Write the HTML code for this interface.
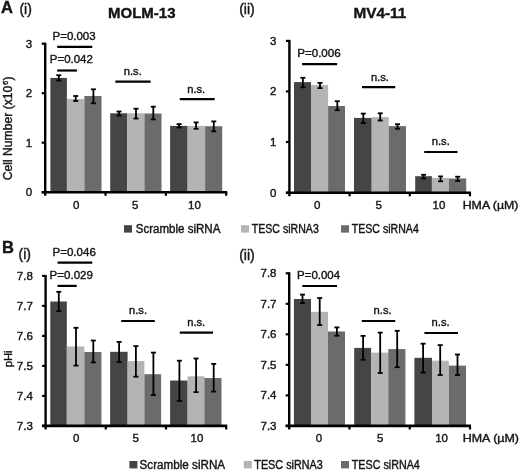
<!DOCTYPE html>
<html><head><meta charset="utf-8"><style>
html,body{margin:0;padding:0;background:#fff;width:520px;height:471px;overflow:hidden}
svg{display:block;filter:grayscale(1)}
text{font-family:"Liberation Sans", sans-serif;fill:#151515;stroke:#151515;stroke-width:0.4px}
</style></head><body>
<svg width="520" height="471" viewBox="0 0 520 471">
<rect width="520" height="471" fill="#fff"/>
<rect x="50.40" y="77.90" width="16.50" height="114.30" fill="#454545"/>
<rect x="66.90" y="99.00" width="17.50" height="93.20" fill="#b4b4b4"/>
<rect x="84.40" y="96.00" width="17.10" height="96.20" fill="#6b6b6b"/>
<rect x="110.20" y="113.30" width="16.90" height="78.90" fill="#454545"/>
<rect x="127.10" y="113.30" width="17.30" height="78.90" fill="#b4b4b4"/>
<rect x="144.40" y="113.50" width="17.10" height="78.70" fill="#6b6b6b"/>
<rect x="170.10" y="125.90" width="17.50" height="66.30" fill="#454545"/>
<rect x="187.60" y="125.90" width="17.50" height="66.30" fill="#b4b4b4"/>
<rect x="205.10" y="126.20" width="17.10" height="66.00" fill="#6b6b6b"/>
<line x1="58.80" y1="75.20" x2="58.80" y2="80.50" stroke="#000" stroke-width="1.8"/>
<line x1="56.30" y1="75.20" x2="61.30" y2="75.20" stroke="#000" stroke-width="1.8"/>
<line x1="56.30" y1="80.50" x2="61.30" y2="80.50" stroke="#000" stroke-width="1.8"/>
<line x1="75.70" y1="96.00" x2="75.70" y2="101.00" stroke="#000" stroke-width="1.8"/>
<line x1="73.20" y1="96.00" x2="78.20" y2="96.00" stroke="#000" stroke-width="1.8"/>
<line x1="73.20" y1="101.00" x2="78.20" y2="101.00" stroke="#000" stroke-width="1.8"/>
<line x1="93.40" y1="89.30" x2="93.40" y2="103.30" stroke="#000" stroke-width="1.8"/>
<line x1="90.90" y1="89.30" x2="95.90" y2="89.30" stroke="#000" stroke-width="1.8"/>
<line x1="90.90" y1="103.30" x2="95.90" y2="103.30" stroke="#000" stroke-width="1.8"/>
<line x1="119.00" y1="111.50" x2="119.00" y2="115.60" stroke="#000" stroke-width="1.8"/>
<line x1="116.50" y1="111.50" x2="121.50" y2="111.50" stroke="#000" stroke-width="1.8"/>
<line x1="116.50" y1="115.60" x2="121.50" y2="115.60" stroke="#000" stroke-width="1.8"/>
<line x1="136.00" y1="108.70" x2="136.00" y2="118.50" stroke="#000" stroke-width="1.8"/>
<line x1="133.50" y1="108.70" x2="138.50" y2="108.70" stroke="#000" stroke-width="1.8"/>
<line x1="133.50" y1="118.50" x2="138.50" y2="118.50" stroke="#000" stroke-width="1.8"/>
<line x1="153.30" y1="106.70" x2="153.30" y2="119.40" stroke="#000" stroke-width="1.8"/>
<line x1="150.80" y1="106.70" x2="155.80" y2="106.70" stroke="#000" stroke-width="1.8"/>
<line x1="150.80" y1="119.40" x2="155.80" y2="119.40" stroke="#000" stroke-width="1.8"/>
<line x1="179.10" y1="124.10" x2="179.10" y2="127.50" stroke="#000" stroke-width="1.8"/>
<line x1="176.60" y1="124.10" x2="181.60" y2="124.10" stroke="#000" stroke-width="1.8"/>
<line x1="176.60" y1="127.50" x2="181.60" y2="127.50" stroke="#000" stroke-width="1.8"/>
<line x1="196.10" y1="122.40" x2="196.10" y2="128.80" stroke="#000" stroke-width="1.8"/>
<line x1="193.60" y1="122.40" x2="198.60" y2="122.40" stroke="#000" stroke-width="1.8"/>
<line x1="193.60" y1="128.80" x2="198.60" y2="128.80" stroke="#000" stroke-width="1.8"/>
<line x1="213.80" y1="121.40" x2="213.80" y2="131.30" stroke="#000" stroke-width="1.8"/>
<line x1="211.30" y1="121.40" x2="216.30" y2="121.40" stroke="#000" stroke-width="1.8"/>
<line x1="211.30" y1="131.30" x2="216.30" y2="131.30" stroke="#000" stroke-width="1.8"/>
<line x1="45.20" y1="42.70" x2="45.20" y2="195.70" stroke="#000" stroke-width="2.4"/>
<line x1="41.70" y1="192.20" x2="45.20" y2="192.20" stroke="#000" stroke-width="2.2"/>
<line x1="41.70" y1="142.70" x2="45.20" y2="142.70" stroke="#000" stroke-width="2.2"/>
<line x1="41.70" y1="93.20" x2="45.20" y2="93.20" stroke="#000" stroke-width="2.2"/>
<line x1="41.70" y1="43.70" x2="45.20" y2="43.70" stroke="#000" stroke-width="2.2"/>
<line x1="41.70" y1="192.20" x2="227.20" y2="192.20" stroke="#000" stroke-width="2.6"/>
<line x1="105.53" y1="192.20" x2="105.53" y2="195.80" stroke="#000" stroke-width="2.2"/>
<line x1="165.87" y1="192.20" x2="165.87" y2="195.80" stroke="#000" stroke-width="2.2"/>
<line x1="226.20" y1="192.20" x2="226.20" y2="195.80" stroke="#000" stroke-width="2.2"/>
<text x="32.20" y="196.20" font-size="11.5" text-anchor="end">0</text>
<text x="32.20" y="146.70" font-size="11.5" text-anchor="end">1</text>
<text x="32.20" y="97.20" font-size="11.5" text-anchor="end">2</text>
<text x="32.20" y="47.70" font-size="11.5" text-anchor="end">3</text>
<rect x="294.00" y="82.10" width="17.00" height="110.60" fill="#454545"/>
<rect x="311.00" y="85.00" width="17.10" height="107.70" fill="#b4b4b4"/>
<rect x="328.10" y="106.00" width="16.90" height="86.70" fill="#6b6b6b"/>
<rect x="354.00" y="117.90" width="17.70" height="74.80" fill="#454545"/>
<rect x="371.70" y="117.10" width="17.00" height="75.60" fill="#b4b4b4"/>
<rect x="388.70" y="126.10" width="17.30" height="66.60" fill="#6b6b6b"/>
<rect x="415.20" y="176.20" width="16.70" height="16.50" fill="#454545"/>
<rect x="431.90" y="177.90" width="17.10" height="14.80" fill="#b4b4b4"/>
<rect x="449.00" y="178.50" width="17.20" height="14.20" fill="#6b6b6b"/>
<line x1="302.90" y1="77.80" x2="302.90" y2="87.30" stroke="#000" stroke-width="1.8"/>
<line x1="300.40" y1="77.80" x2="305.40" y2="77.80" stroke="#000" stroke-width="1.8"/>
<line x1="300.40" y1="87.30" x2="305.40" y2="87.30" stroke="#000" stroke-width="1.8"/>
<line x1="320.00" y1="82.90" x2="320.00" y2="88.10" stroke="#000" stroke-width="1.8"/>
<line x1="317.50" y1="82.90" x2="322.50" y2="82.90" stroke="#000" stroke-width="1.8"/>
<line x1="317.50" y1="88.10" x2="322.50" y2="88.10" stroke="#000" stroke-width="1.8"/>
<line x1="337.30" y1="101.20" x2="337.30" y2="110.20" stroke="#000" stroke-width="1.8"/>
<line x1="334.80" y1="101.20" x2="339.80" y2="101.20" stroke="#000" stroke-width="1.8"/>
<line x1="334.80" y1="110.20" x2="339.80" y2="110.20" stroke="#000" stroke-width="1.8"/>
<line x1="363.30" y1="113.60" x2="363.30" y2="123.10" stroke="#000" stroke-width="1.8"/>
<line x1="360.80" y1="113.60" x2="365.80" y2="113.60" stroke="#000" stroke-width="1.8"/>
<line x1="360.80" y1="123.10" x2="365.80" y2="123.10" stroke="#000" stroke-width="1.8"/>
<line x1="380.20" y1="113.30" x2="380.20" y2="120.50" stroke="#000" stroke-width="1.8"/>
<line x1="377.70" y1="113.30" x2="382.70" y2="113.30" stroke="#000" stroke-width="1.8"/>
<line x1="377.70" y1="120.50" x2="382.70" y2="120.50" stroke="#000" stroke-width="1.8"/>
<line x1="397.50" y1="124.20" x2="397.50" y2="128.80" stroke="#000" stroke-width="1.8"/>
<line x1="395.00" y1="124.20" x2="400.00" y2="124.20" stroke="#000" stroke-width="1.8"/>
<line x1="395.00" y1="128.80" x2="400.00" y2="128.80" stroke="#000" stroke-width="1.8"/>
<line x1="423.60" y1="174.80" x2="423.60" y2="178.50" stroke="#000" stroke-width="1.8"/>
<line x1="421.10" y1="174.80" x2="426.10" y2="174.80" stroke="#000" stroke-width="1.8"/>
<line x1="421.10" y1="178.50" x2="426.10" y2="178.50" stroke="#000" stroke-width="1.8"/>
<line x1="440.60" y1="176.40" x2="440.60" y2="181.30" stroke="#000" stroke-width="1.8"/>
<line x1="438.10" y1="176.40" x2="443.10" y2="176.40" stroke="#000" stroke-width="1.8"/>
<line x1="438.10" y1="181.30" x2="443.10" y2="181.30" stroke="#000" stroke-width="1.8"/>
<line x1="457.70" y1="176.70" x2="457.70" y2="181.00" stroke="#000" stroke-width="1.8"/>
<line x1="455.20" y1="176.70" x2="460.20" y2="176.70" stroke="#000" stroke-width="1.8"/>
<line x1="455.20" y1="181.00" x2="460.20" y2="181.00" stroke="#000" stroke-width="1.8"/>
<line x1="289.40" y1="39.90" x2="289.40" y2="196.20" stroke="#000" stroke-width="2.4"/>
<line x1="285.90" y1="192.70" x2="289.40" y2="192.70" stroke="#000" stroke-width="2.2"/>
<line x1="285.90" y1="142.00" x2="289.40" y2="142.00" stroke="#000" stroke-width="2.2"/>
<line x1="285.90" y1="91.40" x2="289.40" y2="91.40" stroke="#000" stroke-width="2.2"/>
<line x1="285.90" y1="40.90" x2="289.40" y2="40.90" stroke="#000" stroke-width="2.2"/>
<line x1="285.90" y1="192.70" x2="471.00" y2="192.70" stroke="#000" stroke-width="2.6"/>
<line x1="349.60" y1="192.70" x2="349.60" y2="196.30" stroke="#000" stroke-width="2.2"/>
<line x1="409.80" y1="192.70" x2="409.80" y2="196.30" stroke="#000" stroke-width="2.2"/>
<line x1="470.00" y1="192.70" x2="470.00" y2="196.30" stroke="#000" stroke-width="2.2"/>
<text x="276.50" y="196.70" font-size="11.5" text-anchor="end">0</text>
<text x="276.50" y="146.00" font-size="11.5" text-anchor="end">1</text>
<text x="276.50" y="95.40" font-size="11.5" text-anchor="end">2</text>
<text x="276.50" y="44.90" font-size="11.5" text-anchor="end">3</text>
<rect x="50.30" y="301.50" width="16.50" height="124.40" fill="#454545"/>
<rect x="66.80" y="346.50" width="17.60" height="79.40" fill="#b4b4b4"/>
<rect x="84.40" y="352.00" width="17.00" height="73.90" fill="#6b6b6b"/>
<rect x="110.10" y="351.80" width="17.50" height="74.10" fill="#454545"/>
<rect x="127.60" y="361.10" width="16.80" height="64.80" fill="#b4b4b4"/>
<rect x="144.40" y="374.20" width="16.70" height="51.70" fill="#6b6b6b"/>
<rect x="170.10" y="380.50" width="17.50" height="45.40" fill="#454545"/>
<rect x="187.60" y="376.30" width="16.80" height="49.60" fill="#b4b4b4"/>
<rect x="204.40" y="378.00" width="17.10" height="47.90" fill="#6b6b6b"/>
<line x1="58.80" y1="291.80" x2="58.80" y2="311.10" stroke="#000" stroke-width="1.8"/>
<line x1="56.30" y1="291.80" x2="61.30" y2="291.80" stroke="#000" stroke-width="1.8"/>
<line x1="56.30" y1="311.10" x2="61.30" y2="311.10" stroke="#000" stroke-width="1.8"/>
<line x1="76.00" y1="327.80" x2="76.00" y2="365.60" stroke="#000" stroke-width="1.8"/>
<line x1="73.50" y1="327.80" x2="78.50" y2="327.80" stroke="#000" stroke-width="1.8"/>
<line x1="73.50" y1="365.60" x2="78.50" y2="365.60" stroke="#000" stroke-width="1.8"/>
<line x1="93.30" y1="340.50" x2="93.30" y2="362.40" stroke="#000" stroke-width="1.8"/>
<line x1="90.80" y1="340.50" x2="95.80" y2="340.50" stroke="#000" stroke-width="1.8"/>
<line x1="90.80" y1="362.40" x2="95.80" y2="362.40" stroke="#000" stroke-width="1.8"/>
<line x1="119.10" y1="341.90" x2="119.10" y2="362.00" stroke="#000" stroke-width="1.8"/>
<line x1="116.60" y1="341.90" x2="121.60" y2="341.90" stroke="#000" stroke-width="1.8"/>
<line x1="116.60" y1="362.00" x2="121.60" y2="362.00" stroke="#000" stroke-width="1.8"/>
<line x1="135.90" y1="346.10" x2="135.90" y2="376.70" stroke="#000" stroke-width="1.8"/>
<line x1="133.40" y1="346.10" x2="138.40" y2="346.10" stroke="#000" stroke-width="1.8"/>
<line x1="133.40" y1="376.70" x2="138.40" y2="376.70" stroke="#000" stroke-width="1.8"/>
<line x1="153.40" y1="352.60" x2="153.40" y2="395.10" stroke="#000" stroke-width="1.8"/>
<line x1="150.90" y1="352.60" x2="155.90" y2="352.60" stroke="#000" stroke-width="1.8"/>
<line x1="150.90" y1="395.10" x2="155.90" y2="395.10" stroke="#000" stroke-width="1.8"/>
<line x1="179.40" y1="360.70" x2="179.40" y2="400.90" stroke="#000" stroke-width="1.8"/>
<line x1="176.90" y1="360.70" x2="181.90" y2="360.70" stroke="#000" stroke-width="1.8"/>
<line x1="176.90" y1="400.90" x2="181.90" y2="400.90" stroke="#000" stroke-width="1.8"/>
<line x1="196.10" y1="358.50" x2="196.10" y2="392.10" stroke="#000" stroke-width="1.8"/>
<line x1="193.60" y1="358.50" x2="198.60" y2="358.50" stroke="#000" stroke-width="1.8"/>
<line x1="193.60" y1="392.10" x2="198.60" y2="392.10" stroke="#000" stroke-width="1.8"/>
<line x1="213.70" y1="363.90" x2="213.70" y2="391.60" stroke="#000" stroke-width="1.8"/>
<line x1="211.20" y1="363.90" x2="216.20" y2="363.90" stroke="#000" stroke-width="1.8"/>
<line x1="211.20" y1="391.60" x2="216.20" y2="391.60" stroke="#000" stroke-width="1.8"/>
<line x1="45.60" y1="275.00" x2="45.60" y2="429.40" stroke="#000" stroke-width="2.4"/>
<line x1="42.10" y1="425.90" x2="45.60" y2="425.90" stroke="#000" stroke-width="2.2"/>
<line x1="42.10" y1="395.90" x2="45.60" y2="395.90" stroke="#000" stroke-width="2.2"/>
<line x1="42.10" y1="365.90" x2="45.60" y2="365.90" stroke="#000" stroke-width="2.2"/>
<line x1="42.10" y1="335.90" x2="45.60" y2="335.90" stroke="#000" stroke-width="2.2"/>
<line x1="42.10" y1="305.90" x2="45.60" y2="305.90" stroke="#000" stroke-width="2.2"/>
<line x1="42.10" y1="275.90" x2="45.60" y2="275.90" stroke="#000" stroke-width="2.2"/>
<line x1="42.10" y1="425.90" x2="227.20" y2="425.90" stroke="#000" stroke-width="2.6"/>
<line x1="105.80" y1="425.90" x2="105.80" y2="429.50" stroke="#000" stroke-width="2.2"/>
<line x1="166.00" y1="425.90" x2="166.00" y2="429.50" stroke="#000" stroke-width="2.2"/>
<line x1="226.20" y1="425.90" x2="226.20" y2="429.50" stroke="#000" stroke-width="2.2"/>
<text x="32.80" y="429.90" font-size="11.5" text-anchor="end">7.3</text>
<text x="32.80" y="399.90" font-size="11.5" text-anchor="end">7.4</text>
<text x="32.80" y="369.90" font-size="11.5" text-anchor="end">7.5</text>
<text x="32.80" y="339.90" font-size="11.5" text-anchor="end">7.6</text>
<text x="32.80" y="309.90" font-size="11.5" text-anchor="end">7.7</text>
<text x="32.80" y="279.90" font-size="11.5" text-anchor="end">7.8</text>
<rect x="293.90" y="299.00" width="17.10" height="126.90" fill="#454545"/>
<rect x="311.00" y="311.80" width="17.00" height="114.10" fill="#b4b4b4"/>
<rect x="328.00" y="331.50" width="17.00" height="94.40" fill="#6b6b6b"/>
<rect x="354.20" y="347.90" width="16.90" height="78.00" fill="#454545"/>
<rect x="371.10" y="352.70" width="17.20" height="73.20" fill="#b4b4b4"/>
<rect x="388.30" y="349.10" width="17.10" height="76.80" fill="#6b6b6b"/>
<rect x="414.40" y="357.80" width="17.60" height="68.10" fill="#454545"/>
<rect x="432.00" y="360.70" width="16.90" height="65.20" fill="#b4b4b4"/>
<rect x="448.90" y="365.60" width="17.10" height="60.30" fill="#6b6b6b"/>
<line x1="302.50" y1="294.60" x2="302.50" y2="303.20" stroke="#000" stroke-width="1.8"/>
<line x1="300.00" y1="294.60" x2="305.00" y2="294.60" stroke="#000" stroke-width="1.8"/>
<line x1="300.00" y1="303.20" x2="305.00" y2="303.20" stroke="#000" stroke-width="1.8"/>
<line x1="319.70" y1="298.00" x2="319.70" y2="325.10" stroke="#000" stroke-width="1.8"/>
<line x1="317.20" y1="298.00" x2="322.20" y2="298.00" stroke="#000" stroke-width="1.8"/>
<line x1="317.20" y1="325.10" x2="322.20" y2="325.10" stroke="#000" stroke-width="1.8"/>
<line x1="336.90" y1="327.40" x2="336.90" y2="335.70" stroke="#000" stroke-width="1.8"/>
<line x1="334.40" y1="327.40" x2="339.40" y2="327.40" stroke="#000" stroke-width="1.8"/>
<line x1="334.40" y1="335.70" x2="339.40" y2="335.70" stroke="#000" stroke-width="1.8"/>
<line x1="363.10" y1="335.90" x2="363.10" y2="359.70" stroke="#000" stroke-width="1.8"/>
<line x1="360.60" y1="335.90" x2="365.60" y2="335.90" stroke="#000" stroke-width="1.8"/>
<line x1="360.60" y1="359.70" x2="365.60" y2="359.70" stroke="#000" stroke-width="1.8"/>
<line x1="380.20" y1="332.60" x2="380.20" y2="373.00" stroke="#000" stroke-width="1.8"/>
<line x1="377.70" y1="332.60" x2="382.70" y2="332.60" stroke="#000" stroke-width="1.8"/>
<line x1="377.70" y1="373.00" x2="382.70" y2="373.00" stroke="#000" stroke-width="1.8"/>
<line x1="397.20" y1="330.80" x2="397.20" y2="367.20" stroke="#000" stroke-width="1.8"/>
<line x1="394.70" y1="330.80" x2="399.70" y2="330.80" stroke="#000" stroke-width="1.8"/>
<line x1="394.70" y1="367.20" x2="399.70" y2="367.20" stroke="#000" stroke-width="1.8"/>
<line x1="423.10" y1="343.70" x2="423.10" y2="372.60" stroke="#000" stroke-width="1.8"/>
<line x1="420.60" y1="343.70" x2="425.60" y2="343.70" stroke="#000" stroke-width="1.8"/>
<line x1="420.60" y1="372.60" x2="425.60" y2="372.60" stroke="#000" stroke-width="1.8"/>
<line x1="440.20" y1="345.10" x2="440.20" y2="375.00" stroke="#000" stroke-width="1.8"/>
<line x1="437.70" y1="345.10" x2="442.70" y2="345.10" stroke="#000" stroke-width="1.8"/>
<line x1="437.70" y1="375.00" x2="442.70" y2="375.00" stroke="#000" stroke-width="1.8"/>
<line x1="457.50" y1="354.50" x2="457.50" y2="375.00" stroke="#000" stroke-width="1.8"/>
<line x1="455.00" y1="354.50" x2="460.00" y2="354.50" stroke="#000" stroke-width="1.8"/>
<line x1="455.00" y1="375.00" x2="460.00" y2="375.00" stroke="#000" stroke-width="1.8"/>
<line x1="289.20" y1="272.30" x2="289.20" y2="429.40" stroke="#000" stroke-width="2.4"/>
<line x1="285.70" y1="425.90" x2="289.20" y2="425.90" stroke="#000" stroke-width="2.2"/>
<line x1="285.70" y1="395.38" x2="289.20" y2="395.38" stroke="#000" stroke-width="2.2"/>
<line x1="285.70" y1="364.86" x2="289.20" y2="364.86" stroke="#000" stroke-width="2.2"/>
<line x1="285.70" y1="334.34" x2="289.20" y2="334.34" stroke="#000" stroke-width="2.2"/>
<line x1="285.70" y1="303.82" x2="289.20" y2="303.82" stroke="#000" stroke-width="2.2"/>
<line x1="285.70" y1="273.30" x2="289.20" y2="273.30" stroke="#000" stroke-width="2.2"/>
<line x1="285.70" y1="425.90" x2="471.00" y2="425.90" stroke="#000" stroke-width="2.6"/>
<line x1="349.47" y1="425.90" x2="349.47" y2="429.50" stroke="#000" stroke-width="2.2"/>
<line x1="409.73" y1="425.90" x2="409.73" y2="429.50" stroke="#000" stroke-width="2.2"/>
<line x1="470.00" y1="425.90" x2="470.00" y2="429.50" stroke="#000" stroke-width="2.2"/>
<text x="276.50" y="429.90" font-size="11.5" text-anchor="end">7.3</text>
<text x="276.50" y="399.38" font-size="11.5" text-anchor="end">7.4</text>
<text x="276.50" y="368.86" font-size="11.5" text-anchor="end">7.5</text>
<text x="276.50" y="338.34" font-size="11.5" text-anchor="end">7.6</text>
<text x="276.50" y="307.82" font-size="11.5" text-anchor="end">7.7</text>
<text x="276.50" y="277.30" font-size="11.5" text-anchor="end">7.8</text>
<line x1="57.20" y1="46.90" x2="92.30" y2="46.90" stroke="#000" stroke-width="2.2"/>
<text x="52.60" y="39.60" font-size="11.5" textLength="43.0" lengthAdjust="spacingAndGlyphs">P=0.003</text>
<line x1="57.20" y1="70.50" x2="76.90" y2="70.50" stroke="#000" stroke-width="2.2"/>
<text x="49.80" y="63.20" font-size="11.5" textLength="43.0" lengthAdjust="spacingAndGlyphs">P=0.042</text>
<line x1="115.30" y1="81.60" x2="150.60" y2="81.60" stroke="#000" stroke-width="2.2"/>
<text x="123.80" y="75.20" font-size="11.5" textLength="18.0" lengthAdjust="spacingAndGlyphs">n.s.</text>
<line x1="179.80" y1="99.10" x2="214.70" y2="99.10" stroke="#000" stroke-width="2.2"/>
<text x="187.20" y="92.80" font-size="11.5" textLength="18.0" lengthAdjust="spacingAndGlyphs">n.s.</text>
<line x1="302.10" y1="64.20" x2="337.10" y2="64.20" stroke="#000" stroke-width="2.2"/>
<text x="297.20" y="57.30" font-size="11.5" textLength="43.5" lengthAdjust="spacingAndGlyphs">P=0.006</text>
<line x1="362.00" y1="87.20" x2="395.20" y2="87.20" stroke="#000" stroke-width="2.2"/>
<text x="370.90" y="80.90" font-size="11.5" textLength="18.0" lengthAdjust="spacingAndGlyphs">n.s.</text>
<line x1="424.20" y1="152.00" x2="457.50" y2="152.00" stroke="#000" stroke-width="2.2"/>
<text x="431.80" y="144.80" font-size="11.5" textLength="18.0" lengthAdjust="spacingAndGlyphs">n.s.</text>
<line x1="57.50" y1="262.70" x2="92.30" y2="262.70" stroke="#000" stroke-width="2.2"/>
<text x="52.50" y="255.60" font-size="11.5" textLength="43.3" lengthAdjust="spacingAndGlyphs">P=0.046</text>
<line x1="57.50" y1="285.90" x2="76.70" y2="285.90" stroke="#000" stroke-width="2.2"/>
<text x="49.60" y="278.70" font-size="11.5" textLength="43.3" lengthAdjust="spacingAndGlyphs">P=0.029</text>
<line x1="121.20" y1="321.00" x2="154.80" y2="321.00" stroke="#000" stroke-width="2.2"/>
<text x="129.00" y="314.00" font-size="11.5" textLength="18.0" lengthAdjust="spacingAndGlyphs">n.s.</text>
<line x1="179.80" y1="332.70" x2="213.00" y2="332.70" stroke="#000" stroke-width="2.2"/>
<text x="187.20" y="326.30" font-size="11.5" textLength="18.0" lengthAdjust="spacingAndGlyphs">n.s.</text>
<line x1="302.30" y1="286.00" x2="337.00" y2="286.00" stroke="#000" stroke-width="2.2"/>
<text x="297.10" y="278.60" font-size="11.5" textLength="43.0" lengthAdjust="spacingAndGlyphs">P=0.004</text>
<line x1="361.80" y1="321.00" x2="395.20" y2="321.00" stroke="#000" stroke-width="2.2"/>
<text x="373.60" y="314.00" font-size="11.5" textLength="18.0" lengthAdjust="spacingAndGlyphs">n.s.</text>
<line x1="424.40" y1="333.00" x2="458.00" y2="333.00" stroke="#000" stroke-width="2.2"/>
<text x="431.60" y="326.30" font-size="11.5" textLength="18.0" lengthAdjust="spacingAndGlyphs">n.s.</text>
<text x="76.20" y="209.00" font-size="11.5" text-anchor="middle">0</text>
<text x="135.30" y="209.00" font-size="11.5" text-anchor="middle">5</text>
<text x="194.40" y="209.00" font-size="11.5" text-anchor="middle">10</text>
<text x="317.10" y="209.00" font-size="11.5" text-anchor="middle">0</text>
<text x="378.80" y="209.00" font-size="11.5" text-anchor="middle">5</text>
<text x="439.00" y="209.00" font-size="11.5" text-anchor="middle">10</text>
<text x="462.70" y="209.00" font-size="11.5" textLength="55.8" lengthAdjust="spacingAndGlyphs">HMA (µM)</text>
<text x="76.10" y="442.00" font-size="11.5" text-anchor="middle">0</text>
<text x="135.80" y="442.00" font-size="11.5" text-anchor="middle">5</text>
<text x="197.00" y="442.00" font-size="11.5" text-anchor="middle">10</text>
<text x="319.00" y="442.00" font-size="11.5" text-anchor="middle">0</text>
<text x="380.20" y="442.00" font-size="11.5" text-anchor="middle">5</text>
<text x="441.60" y="442.00" font-size="11.5" text-anchor="middle">10</text>
<text x="462.70" y="442.00" font-size="11.5" textLength="56.3" lengthAdjust="spacingAndGlyphs">HMA (µM)</text>
<text x="1.00" y="13.40" font-size="16.5" font-weight="bold">A</text>
<text x="19.40" y="14.30" font-size="14">(i)</text>
<text x="108.00" y="17.50" font-size="15.5" font-weight="bold" textLength="67.5" lengthAdjust="spacingAndGlyphs">MOLM-13</text>
<text x="239.20" y="14.30" font-size="14">(ii)</text>
<text x="353.50" y="17.70" font-size="15.5" font-weight="bold" textLength="52.8" lengthAdjust="spacingAndGlyphs">MV4-11</text>
<text x="2.00" y="252.50" font-size="16.5" font-weight="bold">B</text>
<text x="18.60" y="259.20" font-size="14">(i)</text>
<text x="239.20" y="259.50" font-size="14">(ii)</text>
<text x="0" y="0" font-size="12" transform="translate(12.4,180.2) rotate(-90)" textLength="94.5" lengthAdjust="spacingAndGlyphs">Cell Number (x10</text>
<text x="0" y="0" font-size="7.5" transform="translate(8.2,84.9) rotate(-90)">6</text>
<text x="0" y="0" font-size="12" transform="translate(12.4,80.6) rotate(-90)">)</text>
<text x="0" y="0" font-size="11.5" transform="translate(12.2,367.2) rotate(-90)" textLength="16.8" lengthAdjust="spacingAndGlyphs">pHi</text>
<rect x="124.00" y="225.20" width="8.00" height="7.40" fill="#454545"/>
<text x="135.70" y="232.80" font-size="12" textLength="84.7" lengthAdjust="spacingAndGlyphs">Scramble siRNA</text>
<rect x="241.00" y="225.20" width="8.00" height="7.40" fill="#b4b4b4"/>
<text x="251.80" y="232.80" font-size="12" textLength="67.0" lengthAdjust="spacingAndGlyphs">TESC siRNA3</text>
<rect x="341.00" y="225.20" width="8.00" height="7.40" fill="#6b6b6b"/>
<text x="351.80" y="232.80" font-size="12" textLength="67.0" lengthAdjust="spacingAndGlyphs">TESC siRNA4</text>
<rect x="129.40" y="461.00" width="8.00" height="7.40" fill="#454545"/>
<text x="139.60" y="469.00" font-size="12" textLength="85.5" lengthAdjust="spacingAndGlyphs">Scramble siRNA</text>
<rect x="243.80" y="461.00" width="8.00" height="7.40" fill="#b4b4b4"/>
<text x="254.30" y="469.00" font-size="12" textLength="68.5" lengthAdjust="spacingAndGlyphs">TESC siRNA3</text>
<rect x="341.00" y="461.00" width="8.00" height="7.40" fill="#6b6b6b"/>
<text x="351.80" y="469.00" font-size="12" textLength="68.0" lengthAdjust="spacingAndGlyphs">TESC siRNA4</text>
</svg>
</body></html>
